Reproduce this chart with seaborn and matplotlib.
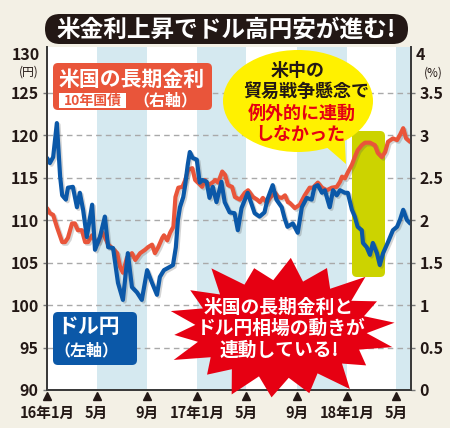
import numpy as np
import pandas as pd
import matplotlib
matplotlib.use('Agg')
import matplotlib.pyplot as plt
import matplotlib.patches as mpatches
import matplotlib.transforms as mtransforms
import matplotlib.patheffects as pe
import seaborn as sns

# ---------------- data ----------------
usdjpy_dates = [
    '2016-01-01', '2016-01-08', '2016-01-16', '2016-01-25', '2016-02-02', '2016-02-07', '2016-02-16',
    '2016-02-21', '2016-03-04', '2016-03-14', '2016-03-21', '2016-03-29', '2016-04-07', '2016-04-20',
    '2016-04-27', '2016-05-09', '2016-05-21', '2016-05-29', '2016-06-10', '2016-06-22', '2016-07-04',
    '2016-07-16', '2016-07-26', '2016-08-07', '2016-08-19', '2016-09-01', '2016-09-13', '2016-09-25',
    '2016-10-02', '2016-10-12', '2016-10-27', '2016-11-03', '2016-11-10', '2016-11-15', '2016-11-20',
    '2016-11-28', '2016-12-02', '2016-12-09', '2016-12-14', '2016-12-21', '2016-12-31', '2017-01-07',
    '2017-01-14', '2017-01-24', '2017-01-31', '2017-02-08', '2017-02-17', '2017-03-01', '2017-03-09',
    '2017-03-21', '2017-04-02', '2017-04-10', '2017-04-19', '2017-05-04', '2017-05-14', '2017-05-21',
    '2017-06-02', '2017-06-14', '2017-06-21', '2017-07-04', '2017-07-13', '2017-07-26', '2017-08-02',
    '2017-08-09', '2017-08-22', '2017-09-03', '2017-09-13', '2017-09-25', '2017-10-07', '2017-10-14',
    '2017-10-22', '2017-11-01', '2017-11-08', '2017-11-20', '2017-11-28', '2017-12-07', '2017-12-15',
    '2017-12-27', '2018-01-03', '2018-01-13', '2018-01-20', '2018-01-27', '2018-02-06', '2018-02-09',
    '2018-02-18', '2018-02-26', '2018-03-05', '2018-03-15', '2018-03-22', '2018-03-30', '2018-04-11',
    '2018-04-23', '2018-05-03', '2018-05-10', '2018-05-18', '2018-05-27', '2018-06-04',
]
usdjpy_values = [
    117.3, 116.7, 117.4, 121.4, 115.1, 112.9, 112.4,
    113.8, 113.9, 111.5, 113.2, 111.2, 108.0, 111.8,
    106.5, 108.0, 110.4, 106.8, 106.7, 102.6, 100.6,
    106.1, 102.1, 101.5, 100.6, 104.1, 102.6, 101.2,
    103.3, 104.1, 104.5, 104.7, 106.8, 110.0, 111.5,
    112.7, 113.9, 116.5, 118.0, 117.3, 117.1, 114.4,
    114.7, 114.5, 112.6, 113.9, 112.1, 114.5, 112.1,
    110.9, 110.8, 108.8, 111.4, 113.2, 111.8, 110.8,
    110.4, 110.9, 112.4, 114.1, 112.4, 111.5, 110.2,
    109.2, 109.6, 108.5, 111.5, 112.6, 112.4, 113.9,
    114.1, 113.2, 113.5, 111.5, 113.5, 112.9, 113.5,
    113.2, 113.2, 111.2, 110.4, 109.2, 108.8, 107.3,
    106.8, 105.9, 107.3, 106.1, 104.7, 106.1, 107.4,
    108.8, 109.2, 110.0, 111.2, 110.0, 109.6,
]

yield_dates = [
    '2016-01-01', '2016-01-08', '2016-01-16', '2016-01-25', '2016-02-07', '2016-02-14', '2016-02-21',
    '2016-03-02', '2016-03-09', '2016-03-16', '2016-03-26', '2016-04-03', '2016-04-10', '2016-04-20',
    '2016-04-27', '2016-05-05', '2016-05-14', '2016-05-21', '2016-05-29', '2016-06-08', '2016-06-20',
    '2016-06-27', '2016-07-04', '2016-07-14', '2016-07-26', '2016-08-03', '2016-08-15', '2016-08-27',
    '2016-09-03', '2016-09-13', '2016-09-20', '2016-09-28', '2016-10-08', '2016-10-12', '2016-10-20',
    '2016-10-27', '2016-11-04', '2016-11-09', '2016-11-16', '2016-11-26', '2016-12-03', '2016-12-10',
    '2016-12-20', '2016-12-27', '2017-01-03', '2017-01-13', '2017-01-20', '2017-01-28', '2017-02-07',
    '2017-02-14', '2017-02-21', '2017-03-03', '2017-03-10', '2017-03-17', '2017-03-27', '2017-04-03',
    '2017-04-15', '2017-04-27', '2017-05-05', '2017-05-17', '2017-05-27', '2017-06-03', '2017-06-10',
    '2017-06-20', '2017-06-27', '2017-07-10', '2017-07-17', '2017-07-26', '2017-08-03', '2017-08-10',
    '2017-08-15', '2017-08-27', '2017-09-08', '2017-09-20', '2017-10-02', '2017-10-10', '2017-10-22',
    '2017-11-01', '2017-11-13', '2017-11-25', '2017-12-07', '2017-12-15', '2017-12-20', '2017-12-27',
    '2018-01-03', '2018-01-13', '2018-01-20', '2018-01-27', '2018-02-06', '2018-02-14', '2018-02-26',
    '2018-03-10', '2018-03-17', '2018-03-27', '2018-04-04', '2018-04-11', '2018-04-23', '2018-05-03',
    '2018-05-10', '2018-05-18', '2018-05-25', '2018-06-04',
]
yield_values = [
    2.14, 2.08, 2.06, 1.92, 1.74, 1.74, 1.79,
    1.96, 1.96, 1.88, 1.88, 1.74, 1.74, 1.82,
    1.76, 1.74, 1.86, 1.80, 1.71, 1.67, 1.61,
    1.45, 1.38, 1.56, 1.61, 1.53, 1.61, 1.65,
    1.68, 1.71, 1.61, 1.68, 1.79, 1.82, 1.76,
    1.85, 1.92, 2.27, 2.38, 2.39, 2.47, 2.59,
    2.61, 2.47, 2.44, 2.39, 2.47, 2.41, 2.44,
    2.47, 2.44, 2.57, 2.53, 2.41, 2.39, 2.27,
    2.24, 2.32, 2.35, 2.27, 2.24, 2.21, 2.26,
    2.20, 2.26, 2.32, 2.27, 2.26, 2.29, 2.21,
    2.20, 2.14, 2.18, 2.29, 2.38, 2.38, 2.44,
    2.38, 2.35, 2.38, 2.39, 2.45, 2.51, 2.49,
    2.56, 2.65, 2.74, 2.82, 2.88, 2.91, 2.91,
    2.88, 2.79, 2.74, 2.80, 2.92, 2.96, 2.94,
    3.00, 3.08, 2.96, 2.92,
]

left_ticks = [90, 95, 100, 105, 110, 115, 120, 125]
right_ticks = [0, 0.5, 1, 1.5, 2, 2.5, 3, 3.5]
right_tick_labels = ['0', '0.5', '1', '1.5', '2', '2.5', '3', '3.5']
xtick_dates = ['2016-01-01', '2016-05-01', '2016-09-01', '2017-01-01',
               '2017-05-01', '2017-09-01', '2018-01-01', '2018-05-01']
xtick_labels = ['16年1月', '5月', '9月', '17年1月', '5月', '9月', '18年1月', '5月']
shade_spans = [('2016-05-01', '2016-09-01'), ('2017-01-01', '2017-05-01'),
               ('2017-09-01', '2018-01-01'), ('2018-05-01', '2018-06-06')]
x_range = ('2016-01-01', '2018-06-06')

# ---------------- style ----------------
sns.set_theme(style='white')
plt.rcParams['font.family'] = ['Noto Sans CJK JP', 'DejaVu Sans']

BG = '#f3f0e5'
SHADE = '#d5e9f0'
BLUE = '#0b58a8'
RED = '#e9553a'
DARK = '#231815'

W, H = 450, 428
fig = plt.figure(figsize=(W / 100, H / 100), dpi=100, facecolor=BG)
px = mtransforms.Affine2D().scale(1 / W, -1 / H).translate(0, 1) + fig.transFigure

L, R, B, T = 47, 411, 390, 46.6
ax = fig.add_axes([L / W, 1 - B / H, (R - L) / W, (B - T) / H])
ax2 = ax.twinx()
ax.set_zorder(2)
ax.patch.set_visible(False)
ax2.set_zorder(1)
ax2.patch.set_visible(True)
ax2.patch.set_facecolor('white')

df_usd = pd.DataFrame({'date': pd.to_datetime(usdjpy_dates), 'value': usdjpy_values})
df_yld = pd.DataFrame({'date': pd.to_datetime(yield_dates), 'value': yield_values})

shadow = [pe.SimpleLineShadow(offset=(1.2, -1.2), alpha=0.25, shadow_color='#555555'), pe.Normal()]

# background shading and highlight (on lower axes)
for a, b in shade_spans:
    ax2.axvspan(pd.Timestamp(a), pd.Timestamp(b), color=SHADE, lw=0, zorder=0)
ax2.add_patch(mpatches.FancyBboxPatch((352, 131), 33, 146, boxstyle='round,pad=0,rounding_size=5',
                                      transform=px, facecolor='#ccd300', edgecolor='none',
                                      zorder=0.8, clip_on=False))

# yield line on right axis
sns.lineplot(data=df_yld, x='date', y='value', ax=ax2, color=RED, linewidth=3.0, zorder=2)
ax2.lines[-1].set_path_effects(shadow)
# USD/JPY line on left axis
sns.lineplot(data=df_usd, x='date', y='value', ax=ax, color=BLUE, linewidth=3.0, zorder=2)
ax.lines[-1].set_path_effects(shadow)

ax.set_xlim(pd.Timestamp(x_range[0]), pd.Timestamp(x_range[1]))
ax.set_ylim(90, 130.4)
ax2.set_ylim(0, 4.04)
ax.set_xlabel('')
ax.set_ylabel('')
ax2.set_xlabel('')
ax2.set_ylabel('')

ax2.set_yticks(right_ticks)
ax2.set_yticklabels(right_tick_labels)
ax2.yaxis.grid(True, linestyle=(0, (4, 3)), color='#a9a9a9', linewidth=1.0)
ax2.xaxis.grid(False)
ax2.set_axisbelow(True)

ax.set_yticks(left_ticks)
ax.set_yticklabels([str(v) for v in left_ticks])
ax.grid(False)

for lab in ax.get_yticklabels() + ax2.get_yticklabels():
    lab.set_fontsize(11.5)
    lab.set_fontweight('bold')
    lab.set_color(DARK)
ax.tick_params(axis='y', length=3, width=1, color='#777777', pad=3)
ax2.tick_params(axis='y', length=3, width=1, color='#777777', pad=3)

ax.set_xticks(pd.to_datetime(xtick_dates))
ax.set_xticklabels(xtick_labels)
ax.tick_params(axis='x', length=0, pad=11)
for lab in ax.get_xticklabels():
    lab.set_fontsize(10.5)
    lab.set_fontweight('bold')
    lab.set_color(DARK)
ax.plot(pd.to_datetime(xtick_dates), [-0.018] * len(xtick_dates), marker='^', ls='none',
        ms=6, color=DARK, transform=ax.get_xaxis_transform(), clip_on=False)

for a in (ax, ax2):
    a.spines['top'].set_visible(False)
    for s in ['left', 'right', 'bottom']:
        a.spines[s].set_color('#3a3a3a')
        a.spines[s].set_linewidth(1.3)

# top labels with units
ax.text(-0.019, 129.4, '130', transform=ax.get_yaxis_transform(), ha='right', va='center',
        fontsize=11.5, fontweight='bold', color=DARK)
ax.text(-0.05, 127.4, '(円)', transform=ax.get_yaxis_transform(), ha='center', va='center',
        fontsize=8.5, color=DARK)
ax2.text(1.013, 3.94, '4', transform=ax2.get_yaxis_transform(), ha='left', va='center',
         fontsize=11.5, fontweight='bold', color=DARK)
ax2.text(1.06, 3.73, '(%)', transform=ax2.get_yaxis_transform(), ha='center', va='center',
         fontsize=8.5, color=DARK)

# ---------------- decorations ----------------
def add(p):
    p.set_transform(px)
    p.set_clip_on(False)
    fig.add_artist(p)
    return p

def ftext(x, y, s, **kw):
    kw.setdefault('ha', 'center')
    kw.setdefault('va', 'center')
    kw.setdefault('fontweight', 'bold')
    return fig.text(x, y, s, transform=px, zorder=20, **kw)

# title pill
add(mpatches.FancyBboxPatch((45, 14), 363, 30, boxstyle='round,pad=0,rounding_size=15',
                            facecolor=DARK, edgecolor='none', zorder=15))
ftext(226, 29.5, '米金利上昇でドル高円安が進む!', fontsize=17, color='white')

# yield legend box
add(mpatches.FancyBboxPatch((53, 63), 159, 47, boxstyle='round,pad=0,rounding_size=5',
                            facecolor=RED, edgecolor='none', zorder=15))
ftext(132, 79, '米国の長期金利', fontsize=15, color='white')
add(mpatches.Rectangle((59, 93), 67, 15, facecolor='white', edgecolor='none', zorder=16))
ftext(92.5, 100.5, '10年国債', fontsize=10, color=RED)
ftext(165, 100.5, '（右軸）', fontsize=11.5, color='white')

# USD/JPY legend box
add(mpatches.FancyBboxPatch((53, 312), 84, 53, boxstyle='round,pad=0,rounding_size=5',
                            facecolor=BLUE, edgecolor='none', zorder=15))
ftext(89, 327, 'ドル円', fontsize=15, color='white')
ftext(86, 350, '（左軸）', fontsize=11.5, color='white')

# yellow speech bubble
YEL = '#fff100'
add(mpatches.Polygon([(316, 138), (346, 164), (344, 126)], closed=True,
                     facecolor=YEL, edgecolor='none', zorder=15))
add(mpatches.Ellipse((298, 101), 150, 102, facecolor=YEL, edgecolor='none', zorder=15))
ftext(298, 70, '米中の', fontsize=13, color=DARK)
ftext(306, 91, '貿易戦争懸念で', fontsize=13, color=DARK)
ftext(302, 113, '例外的に連動', fontsize=13, color='#e60012')
ftext(300, 134, 'しなかった', fontsize=13, color='#e60012')

# red starburst (irregular spikes)
cx, cy = 281, 329
spike_scale = [1.00, 0.93, 1.05, 0.96, 1.02, 0.90, 1.06, 0.97, 1.00,
               0.94, 1.04, 0.92, 1.03, 0.98, 0.95, 1.05, 0.91, 1.01]
n = len(spike_scale)
ang = np.linspace(0, 2 * np.pi, 2 * n, endpoint=False) + 0.09
pts = []
for i, a in enumerate(ang):
    if i % 2 == 0:
        k = spike_scale[i // 2]
        rx, ry = 114 * k, 70 * k
    else:
        rx, ry = 86, 49
    pts.append((cx + rx * np.cos(a), cy - ry * np.sin(a)))
add(mpatches.Polygon(pts, closed=True, facecolor='#e60012', edgecolor='none', zorder=15))
ftext(279, 307, '米国の長期金利と', fontsize=13.5, color='white')
ftext(281, 328.5, 'ドル円相場の動きが', fontsize=13.5, color='white')
ftext(279, 350, '連動している!', fontsize=13.5, color='white')

fig.savefig('out.png', dpi=100, facecolor=BG)
